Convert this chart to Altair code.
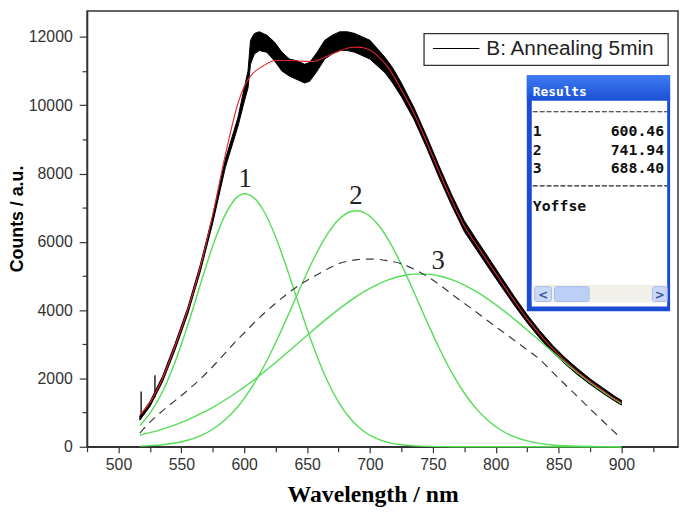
import altair as alt
import pandas as pd

# ---------------- data ----------------
wl = [517, 525, 535, 545, 555, 565, 575, 585, 595, 600, 605, 615, 625, 635, 645, 655, 665, 675,
      685, 690, 695, 705, 715, 725, 735, 745, 755, 765, 775, 785, 795, 805, 815, 825, 835, 845,
      855, 865, 875, 885, 895, 900]
peak1 = [621, 977, 1612, 2479, 3550, 4735, 5882, 6803, 7331, 7408, 7363, 6939, 6144, 5109, 3992, 2929,
         2019, 1308, 796, 606, 455, 244, 123, 58, 26, 10, 4, 1, 0, 0, 0, 0, 0, 0, 0, 0, 0, 0, 0, 0, 0, 0]
peak2 = [19, 32, 60, 109, 190, 319, 513, 795, 1180, 1417, 1685, 2311, 3047, 3856, 4692, 5484, 6159, 6645,
         6888, 6909, 6860, 6565, 6036, 5332, 4526, 3690, 2892, 2177, 1574, 1094, 730, 469, 289, 171, 97, 53,
         28, 14, 7, 3, 1, 1]
peak3 = [341, 412, 518, 643, 790, 960, 1155, 1375, 1617, 1747, 1882, 2167, 2469, 2783, 3101, 3419, 3729, 4023,
         4294, 4418, 4533, 4735, 4891, 4999, 5053, 5053, 4999, 4891, 4735, 4533, 4294, 4023, 3729, 3419, 3101, 2783,
         2469, 2167, 1882, 1617, 1375, 1262]
fit = [930, 1300, 2000, 2950, 4000, 5250, 6800, 8550, 10050, 10550, 10850, 11150, 11310, 11310, 11290, 11280,
       11420, 11580, 11690, 11700, 11680, 11480, 11080, 10450, 9760, 8930, 8050, 7220, 6460, 5900, 5350, 4800,
       4260, 3750, 3290, 2880, 2520, 2200, 1910, 1650, 1400, 1290]
dashed = [400, 720, 1050, 1350, 1650, 1980, 2350, 2750, 3150, 3330, 3520, 3880, 4200, 4500, 4760, 4980, 5180,
          5360, 5450, 5480, 5495, 5490, 5440, 5360, 5200, 5000, 4750, 4470, 4200, 3930, 3650, 3380, 3110, 2840,
          2560, 2190, 1830, 1470, 1110, 760, 410, 240]

# measured spectrum (noisy band: lower / upper envelope)
spec_wl = [517, 525, 535, 545, 555, 565, 575, 585, 595, 600, 603, 605, 608, 612, 618, 624, 630, 636, 642, 648,
           652, 658, 664, 670, 676, 682, 688, 694, 700, 706, 712, 718, 725, 735, 745, 755, 765, 775, 785, 795,
           805, 815, 825, 835, 845, 855, 865, 875, 885, 895, 900]
spec_lo = [780, 1180, 1900, 2840, 3880, 5120, 6560, 8180, 9380, 10100, 10500, 11200, 11500, 11600, 11550, 11300,
           11000, 10850, 10750, 10650, 10700, 11000, 11350, 11500, 11600, 11600, 11550, 11450, 11350, 11150, 10950,
           10650, 10250, 9580, 8760, 7880, 7060, 6300, 5750, 5200, 4660, 4130, 3630, 3180, 2780, 2430, 2110, 1830,
           1570, 1330, 1220]
spec_hi = [900, 1320, 2060, 3020, 4060, 5320, 6780, 8420, 9640, 10500, 11000, 11900, 12100, 12150, 12050, 11850,
           11550, 11350, 11300, 11200, 11250, 11550, 11900, 12050, 12150, 12150, 12100, 12000, 11900, 11650, 11400,
           11100, 10650, 9930, 9100, 8220, 7380, 6620, 6050, 5500, 4940, 4390, 3870, 3400, 2980, 2610, 2290, 1990,
           1730, 1470, 1360]
spike_wl = [518, 529]
spike_lo = [820, 1450]
spike_hi = [1620, 2090]

peak_label_wl = [600.8, 688.8, 754.3]
peak_label_y = [7606, 7105, 5197]
peak_labels = ["1", "2", "3"]

legend_label = "B: Annealing 5min"
res_title = "Results"
res_ids = ["1", "2", "3"]
res_vals = ["600.46", "741.94", "688.40"]
res_extra = "Yoffse"

x_major = list(range(500, 901, 50))
x_minor = list(range(475, 946, 50))
y_major = list(range(0, 12001, 2000))
y_minor = list(range(1000, 11001, 2000))

# ---------------- tables ----------------
comp = pd.DataFrame({"wl": wl, "p1": peak1, "p2": peak2, "p3": peak3, "fit": fit, "base": dashed})
spec = pd.DataFrame({"wl": spec_wl, "lo": spec_lo, "hi": spec_hi})
spikes = pd.DataFrame({"wl": spike_wl, "lo": spike_lo, "hi": spike_hi})
plabels = pd.DataFrame({"wl": peak_label_wl, "y": peak_label_y, "t": peak_labels})
one = pd.DataFrame({"k": [0]})

xs = alt.Scale(domain=[475, 945], nice=False, zero=False)
ys = alt.Scale(domain=[0, 12760], nice=False, zero=False)

GREEN = "#55dd55"
BLUE = "#1a4bd4"

major_x = alt.Axis(values=x_major, format="d", orient="bottom", tickSize=6, labelPadding=4,
                   title="Wavelength / nm", titleFont="Liberation Serif", titleFontSize=24,
                   titleFontWeight="bold", titleColor="black", titleX=289, titleY=55,
                   titleAlign="center", titleBaseline="alphabetic")
minor_x = alt.Axis(values=x_minor, orient="bottom", labels=False, domain=False, tickSize=5, title="")
major_y = alt.Axis(values=y_major, format="d", orient="left", tickSize=8, labelPadding=7,
                   title="Counts / a.u.", titleFont="Liberation Sans", titleFontSize=18,
                   titleFontWeight="bold", titleColor="black", titleAngle=270, titleX=-65, titleY=210,
                   titleAlign="center", titleBaseline="alphabetic")
minor_y = alt.Axis(values=y_minor, orient="left", labels=False, domain=False, tickSize=5, title="")

layers = []

# measured spectrum band
layers.append(
    alt.Chart(spec).mark_area(color="black", stroke="black", strokeWidth=1, interpolate="linear").encode(
        x=alt.X("wl:Q", scale=xs, axis=major_x),
        y=alt.Y("lo:Q", scale=ys, axis=major_y),
        y2="hi:Q",
    )
)
layers.append(
    alt.Chart(spikes).mark_rule(color="black", strokeWidth=1.3).encode(
        x=alt.X("wl:Q", scale=xs, axis=None),
        y=alt.Y("lo:Q", scale=ys, axis=None),
        y2="hi:Q",
    )
)
# green components
layers.append(
    alt.Chart(comp).transform_fold(["p1", "p2", "p3"], as_=["key", "val"]).mark_line(
        color=GREEN, strokeWidth=1.4, interpolate="monotone").encode(
        x=alt.X("wl:Q", scale=xs, axis=minor_x),
        y=alt.Y("val:Q", scale=ys, axis=minor_y),
        detail="key:N",
    )
)
# dashed baseline curve
layers.append(
    alt.Chart(comp).mark_line(color="#3a3a3a", strokeWidth=1.2, strokeDash=[8, 6], interpolate="monotone").encode(
        x=alt.X("wl:Q", scale=xs, axis=None),
        y=alt.Y("base:Q", scale=ys, axis=None),
    )
)
# red cumulative fit
layers.append(
    alt.Chart(comp).mark_line(color="#e3262b", strokeWidth=1.1, interpolate="monotone").encode(
        x=alt.X("wl:Q", scale=xs, axis=None),
        y=alt.Y("fit:Q", scale=ys, axis=None),
    )
)
# peak numbers
layers.append(
    alt.Chart(plabels).mark_text(font="Liberation Serif", fontSize=27, color="#222", align="center",
                                 baseline="alphabetic").encode(
        x=alt.X("wl:Q", scale=xs, axis=None),
        y=alt.Y("y:Q", scale=ys, axis=None),
        text="t:N",
    )
)


def rect(x1, x2, y1, y2, **kw):
    return alt.Chart(one).mark_rect(**kw).encode(
        x=alt.value(x1), x2=alt.value(x2), y=alt.value(y1), y2=alt.value(y2))


def label(txt, x, y, **kw):
    return alt.Chart(pd.DataFrame({"t": [txt]})).mark_text(**kw).encode(
        x=alt.value(x), y=alt.value(y), text="t:N")


# legend box
layers.append(rect(341, 588, 23, 55, fill="white", stroke="#333", strokeWidth=1.3))
layers.append(alt.Chart(one).mark_rule(color="black", strokeWidth=1.2).encode(
    x=alt.value(350), x2=alt.value(397), y=alt.value(38)))
layers.append(label(legend_label, 404, 39, font="Liberation Sans", fontSize=21, color="#222",
                    align="left", baseline="middle"))

# Results window
layers.append(rect(445, 590, 65, 304, fill=BLUE))
layers.append(alt.Chart(one).mark_rect(
    fill=alt.Gradient(gradient="linear", x1=0, y1=0, x2=0, y2=1,
                      stops=[alt.GradientStop(offset=0, color="#3d7cf2"),
                             alt.GradientStop(offset=1, color="#1b4fd6")])).encode(
    x=alt.value(445), x2=alt.value(590), y=alt.value(65), y2=alt.value(91)))
layers.append(rect(450, 587, 91, 299, fill="white"))
layers.append(label(res_title, 451, 82, font="DejaVu Sans Mono", fontSize=13, fontWeight="bold",
                    color="white", align="left", baseline="middle"))
for yy in (102, 177):
    layers.append(alt.Chart(one).mark_rule(color="#222", strokeWidth=1.2, strokeDash=[5, 2]).encode(
        x=alt.value(451), x2=alt.value(587), y=alt.value(yy)))
for i, yy in enumerate((122, 140.3, 158.7)):
    layers.append(label(res_ids[i], 451, yy, font="DejaVu Sans Mono", fontSize=15, fontWeight="bold",
                        color="#111", align="left", baseline="middle"))
    layers.append(label(res_vals[i], 584, yy, font="DejaVu Sans Mono", fontSize=15, fontWeight="bold",
                        color="#111", align="right", baseline="middle"))
layers.append(label(res_extra, 451, 197, font="DejaVu Sans Mono", fontSize=15, fontWeight="bold",
                    color="#111", align="left", baseline="middle"))
# scrollbar
layers.append(rect(450, 587, 277, 295, fill="#f1f0ea"))
layers.append(rect(453, 470, 279, 294, fill="#c9d8f7", stroke="#a9bde6", strokeWidth=1, cornerRadius=2))
layers.append(rect(473, 508, 279, 294, fill="#bcd0f6", stroke="#a9bde6", strokeWidth=1, cornerRadius=2))
layers.append(rect(572, 587, 279, 294, fill="#c9d8f7", stroke="#a9bde6", strokeWidth=1, cornerRadius=2))
layers.append(label("<", 461.5, 287, font="DejaVu Sans", fontSize=12, fontWeight="bold", color="#3b5a9a",
                    align="center", baseline="middle"))
layers.append(label(">", 579.5, 287, font="DejaVu Sans", fontSize=12, fontWeight="bold", color="#3b5a9a",
                    align="center", baseline="middle"))

chart = alt.layer(*layers).resolve_axis(x="independent", y="independent").properties(
    width=598, height=441,
    padding={"left": 80, "top": 0, "right": 2, "bottom": 58},
    autosize=alt.AutoSizeParams(type="none"),
).configure_view(stroke="#333", strokeWidth=1.5).configure_axis(
    domainColor="#333", domainWidth=1.5, tickColor="#333", tickWidth=1.2,
    labelColor="#333", labelFont="Liberation Sans", labelFontSize=16, grid=False,
)

chart.save("out.html", embed_options={"renderer": "svg", "actions": False})
